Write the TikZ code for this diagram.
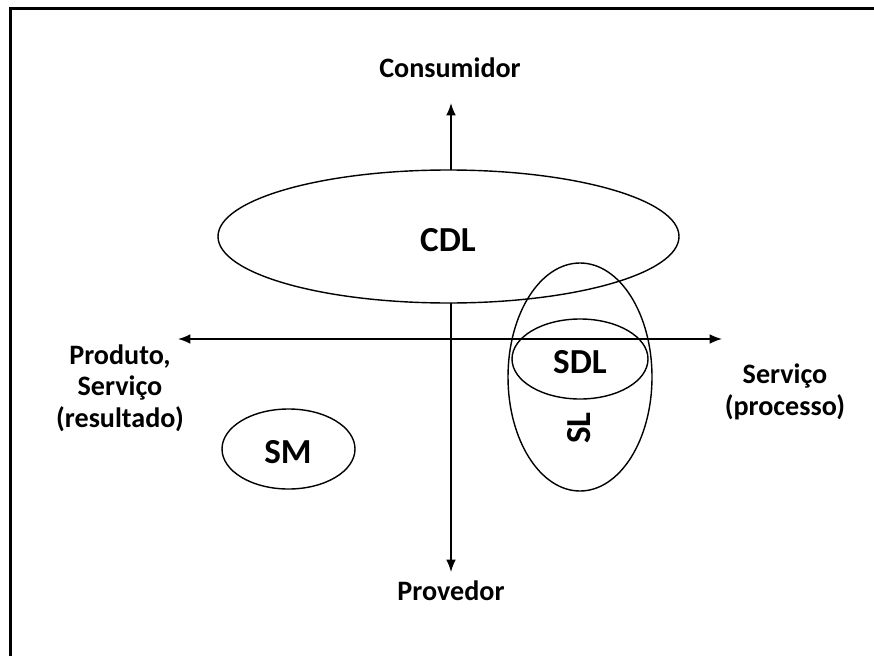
\documentclass[tikz,border=0pt]{standalone}
\usepackage{fontspec}
\setmainfont{Carlito}
\usepackage{tikz}
\usetikzlibrary{arrows.meta}

\begin{document}
\begin{tikzpicture}[x=0.02cm, y=0.02cm]
	\tikzstyle{every node}+=[inner sep=0pt, font=\bfseries]
	\tikzstyle{axis}=[black, line width=0.85pt, {Latex[length=7pt,width=5.5pt]}-{Latex[length=7pt,width=5.5pt]}]
	\tikzstyle{blob}=[black, line width=0.8pt]
	\tikzstyle{axlabel}=[align=center, font=\fontsize{16}{18}\selectfont\bfseries]
	\tikzstyle{inlabel}=[font=\fontsize{20}{24}\selectfont\bfseries]
	\useasboundingbox (0,0) rectangle (874,-655);
	\draw [black, line width=1.5pt] (10.5,-660) -- (10.5,-8.5) -- (880,-8.5);
	% axis ends
	\coordinate (top) at (451,-103);
	\coordinate (bot) at (451,-572);
	\coordinate (lft) at (178,-339);
	\coordinate (rgt) at (722,-339);
	\draw [axis] (top) -- (bot);
	\draw [axis] (lft) -- (rgt);
	\node [axlabel] (consumidor) at (450,-68) {Consumidor};
	\node [axlabel] (provedor) at (451,-591) {Provedor};
	\node [axlabel] (produto) at (120,-388) {Produto,\\Serviço\\(resultado)};
	\node [axlabel] (servico) at (785,-392) {Serviço\\(processo)};
	% ellipses
	\draw [blob, fill=white] (448.5,-236.5) ellipse (230.5 and 66.5);
	\draw [blob] (580,-377) ellipse (72 and 114);
	\draw [blob] (580,-359) ellipse (68 and 40);
	\draw [blob] (288.5,-449) ellipse (66.5 and 40);
	\node [inlabel] (cdl) at (448,-240) {CDL};
	\node [inlabel] (sdl) at (580,-362) {SDL};
	\node [inlabel, rotate=90] (sl) at (579,-428) {SL};
	\node [inlabel] (sm) at (288,-452) {SM};
\end{tikzpicture}
\end{document}
